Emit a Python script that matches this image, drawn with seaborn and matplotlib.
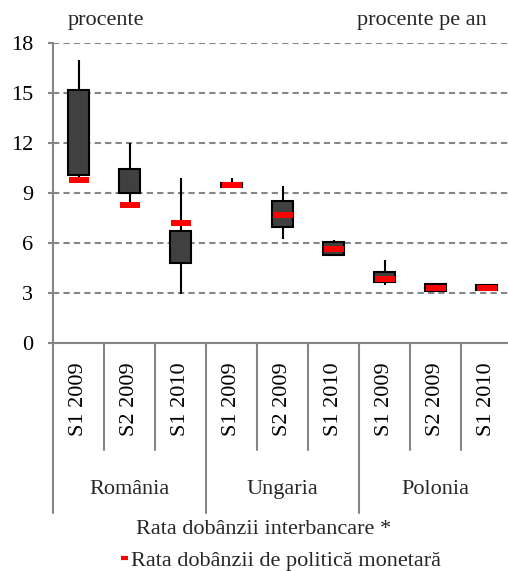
import numpy as np
import matplotlib
matplotlib.use("Agg")
import matplotlib.pyplot as plt
from matplotlib.lines import Line2D
import seaborn as sns

sns.set_theme(style="white")
plt.rcParams['font.family'] = ['Liberation Serif', 'DejaVu Serif']

# data
countries = ['România', 'Ungaria', 'Polonia']
periods = ['S1 2009', 'S2 2009', 'S1 2010'] * 3
low = [10.0, 8.5, 2.95, 9.4, 6.25, 5.25, 3.5, 3.1, 3.15]
box_lo = [10.1, 9.0, 4.8, 9.4, 6.95, 5.3, 3.7, 3.15, 3.2]
box_hi = [15.2, 10.45, 6.75, 9.6, 8.55, 6.05, 4.25, 3.55, 3.5]
high = [17.0, 12.0, 9.9, 9.9, 9.45, 6.2, 5.0, 3.55, 3.5]
policy = [9.8, 8.3, 7.2, 9.5, 7.7, 5.65, 3.85, 3.3, 3.3]

grey = '#868686'
fs = 16
x = np.arange(len(periods))

fig = plt.figure(figsize=(5.08, 5.71), dpi=100)
ax = fig.add_axes([53.3 / 508, 1 - 343.3 / 571, (512 - 53.3) / 508, 300 / 571])

# high-low lines and open-close boxes
ax.vlines(x, low, high, color='black', lw=1.5, zorder=2)
ax.bar(x, np.array(box_hi) - np.array(box_lo), bottom=box_lo, width=0.41,
       color='#404040', edgecolor='black', linewidth=1.5, zorder=3)

# policy rate markers
rect = [(-1, -0.275), (1, -0.275), (1, 0.275), (-1, 0.275)]
sns.scatterplot(x=x, y=policy, marker=rect, s=210, color='red',
                linewidth=0, ax=ax, zorder=4, legend=False)

ax.set_xlim(-0.5, len(periods) - 0.5)
ax.set_ylim(0, 18)
ax.set_yticks(np.arange(0, 19, 3))
ax.yaxis.grid(True, color=grey, linestyle=(0, (3, 2)), linewidth=1.5)
ax.set_axisbelow(True)
for s in ['top', 'right']:
    ax.spines[s].set_visible(False)
for s in ['left', 'bottom']:
    ax.spines[s].set_color(grey)
    ax.spines[s].set_linewidth(1.5)
ax.tick_params(axis='y', left=True, length=3.6, width=1.5, color=grey,
               pad=11, labelsize=fs, labelcolor='black')
ax.set_xticks(x, periods, rotation=90)
ax.tick_params(axis='x', bottom=False, length=0, pad=14, labelsize=fs,
               labelcolor='black')
ax.set_xlabel('')
ax.set_ylabel('')

# multi-level category separators
trans = ax.get_xaxis_transform()
for i in range(len(periods) + 1):
    depth = -0.566 if i % 3 == 0 else -0.356
    ax.plot([i - 0.5, i - 0.5], [0, depth], color=grey, lw=1.5,
            transform=trans, clip_on=False)
for j, c in enumerate(countries):
    ax.text(3 * j + 1, -0.486, c, transform=trans, ha='center', va='center',
            fontsize=fs)

fig.text(68 / 508, 1 - 21 / 571, 'procente', ha='left', va='center', fontsize=fs)
fig.text(487 / 508, 1 - 21 / 571, 'procente pe an', ha='right', va='center', fontsize=fs)

fig.text(264 / 508, 1 - 530 / 571, 'Rata dobânzii interbancare *',
         ha='center', va='center', fontsize=fs)
handle = Line2D([], [], color='red', lw=3, solid_capstyle='butt')
fig.legend([handle], ['Rata dobânzii de politică monetară'],
           loc='center', bbox_to_anchor=(281 / 508, 1 - 561 / 571),
           frameon=False, fontsize=fs, handlelength=0.3, handletextpad=0.15,
           borderpad=0, borderaxespad=0)

fig.savefig('out.png', dpi=100)
